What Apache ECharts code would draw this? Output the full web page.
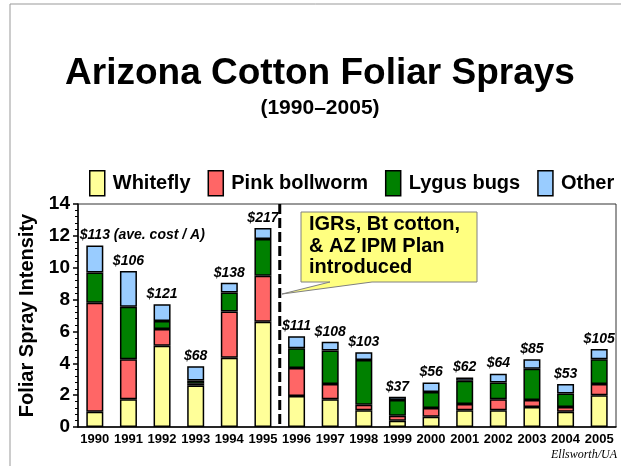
<!DOCTYPE html>
<html>
<head>
<meta charset="utf-8">
<script src="https://cdn.jsdelivr.net/npm/echarts@6/dist/echarts.min.js"></script>
<style>
  html, body { margin: 0; padding: 0; background: #fff; }
  #chart { width: 621px; height: 466px; }
</style>
</head>
<body>
<div id="chart"></div>
<script>
const years = ['1990', '1991', '1992', '1993', '1994', '1995', '1996', '1997',
  '1998', '1999', '2000', '2001', '2002', '2003', '2004', '2005'];
const whitefly = [0.95, 1.75, 5.1, 2.6, 4.35, 6.6, 1.95, 1.75, 1.05, 0.4, 0.65, 1.05, 1.05, 1.25, 0.95, 2.0];
const pinkBollworm = [6.85, 2.5, 1.05, 0.12, 2.9, 2.9, 1.75, 0.95, 0.35, 0.3, 0.55, 0.4, 0.7, 0.45, 0.3, 0.7];
const lygusBugs = [1.9, 3.3, 0.5, 0.2, 1.2, 2.3, 1.25, 2.1, 2.8, 1.0, 1.0, 1.45, 1.05, 1.95, 0.85, 1.55];
const other = [1.7, 2.25, 1.05, 0.9, 0.6, 0.7, 0.75, 0.55, 0.5, 0.2, 0.6, 0.2, 0.55, 0.6, 0.6, 0.65];
const costLabels = ['$113 (ave. cost / A)', '$106', '$121', '$68', '$138', '$217', '$111', '$108',
  '$103', '$37', '$56', '$62', '$64', '$85', '$53', '$105'];
const yTicks = [0, 2, 4, 6, 8, 10, 12, 14];

const FONT = '"Liberation Sans", Arial, sans-serif';
const colors = ['#FFFF99', '#FF6666', '#008000', '#99CCFF'];

const chart = echarts.init(document.getElementById('chart'));

const barBase = (name, data, color) => ({
  name: name,
  type: 'bar',
  stack: 'total',
  barWidth: 17,
  data: data,
  itemStyle: { color: color, borderColor: '#000', borderWidth: 1.5 },
  emphasis: { disabled: true },
});

const otherSeries = barBase('Other',
  other.map((v, i) => (i === 0 ? { value: v, label: { align: 'left', offset: [-15, 0] } } : v)),
  colors[3]);
otherSeries.label = {
  show: true,
  position: 'top',
  distance: 3,
  formatter: (p) => costLabels[p.dataIndex],
  color: '#000',
  fontFamily: FONT,
  fontSize: 14,
  fontWeight: 'bold',
  fontStyle: 'italic',
};

chart.setOption({
  animation: false,
  backgroundColor: '#fff',
  color: colors,
  legend: {
    left: 89,
    top: 170,
    padding: 0,
    icon: 'rect',
    itemWidth: 15,
    itemHeight: 25,
    itemGap: 17,
    itemStyle: { borderColor: '#000', borderWidth: 1.5 },
    textStyle: { fontFamily: FONT, fontSize: 20, fontWeight: 'bold', color: '#000', padding: [0, 0, 0, 3] },
    data: ['Whitefly', 'Pink bollworm', 'Lygus bugs', 'Other'],
  },
  grid: {
    left: 78,
    right: 5,
    top: 204,
    bottom: 39,
    show: true,
    borderColor: '#333',
    borderWidth: 1,
  },
  xAxis: {
    type: 'category',
    data: years,
    axisLine: { lineStyle: { color: '#000', width: 1.5 } },
    axisTick: { length: 4, lineStyle: { color: '#000', width: 1.5 } },
    axisLabel: { fontFamily: FONT, fontSize: 13, fontWeight: 'bold', color: '#000', margin: 6, interval: 0 },
  },
  yAxis: {
    type: 'value',
    min: yTicks[0],
    max: yTicks[yTicks.length - 1],
    interval: 2,
    name: 'Foliar Spray Intensity',
    nameLocation: 'middle',
    nameGap: 36,
    nameTextStyle: { fontFamily: FONT, fontSize: 20, fontWeight: 'bold', color: '#000' },
    axisLine: { show: true, lineStyle: { color: '#000', width: 1.5 } },
    axisTick: { show: true, length: 5, lineStyle: { color: '#000', width: 1.5 } },
    minorTick: { show: true, splitNumber: 5, length: 3, lineStyle: { color: '#000', width: 1 } },
    splitLine: { show: false },
    axisLabel: { fontFamily: FONT, fontSize: 19, fontWeight: 'bold', color: '#000', margin: 8 },
  },
  series: [
    barBase('Whitefly', whitefly, colors[0]),
    barBase('Pink bollworm', pinkBollworm, colors[1]),
    barBase('Lygus bugs', lygusBugs, colors[2]),
    otherSeries,
  ],
});

// divider between 1995 and 1996, from the axis scale
const x95 = chart.convertToPixel({ xAxisIndex: 0 }, '1995');
const x96 = chart.convertToPixel({ xAxisIndex: 0 }, '1996');
const divX = (x95 + x96) / 2;
const yTop = chart.convertToPixel({ yAxisIndex: 0 }, 14);
const yBot = chart.convertToPixel({ yAxisIndex: 0 }, 0);

chart.setOption({
  graphic: [
    {
      type: 'polyline',
      shape: { points: [[10, 466], [10, 4], [621, 4]] },
      style: { stroke: '#999', lineWidth: 1, fill: null },
      silent: true,
    },
    {
      type: 'text',
      x: 320, y: 74,
      style: {
        text: 'Arizona Cotton Foliar Sprays',
        font: 'bold 37px ' + FONT,
        fill: '#000',
        textAlign: 'center',
        textVerticalAlign: 'middle',
      },
    },
    {
      type: 'text',
      x: 320, y: 108,
      style: {
        text: '(1990\u20132005)',
        font: 'bold 21px ' + FONT,
        fill: '#000',
        textAlign: 'center',
        textVerticalAlign: 'middle',
      },
    },
    {
      type: 'line',
      shape: { x1: divX, y1: yTop, x2: divX, y2: yBot },
      style: { stroke: '#000', lineWidth: 3, lineDash: [10, 4] },
      z: 10,
    },
    {
      type: 'polygon',
      shape: {
        points: [[301, 212], [477, 212], [477, 282], [372, 282], [282, 294], [330, 282], [301, 282]],
      },
      style: { fill: '#FFFF80', stroke: '#808080', lineWidth: 1 },
      z: 11,
    },
    {
      type: 'text',
      x: 309, y: 214,
      style: {
        text: 'IGRs, Bt cotton,\n& AZ IPM Plan\nintroduced',
        font: 'bold 20px ' + FONT,
        lineHeight: 21.5,
        fill: '#000',
      },
      z: 12,
    },
    {
      type: 'text',
      x: 617, y: 455,
      style: {
        text: 'Ellsworth/UA',
        font: 'italic 12px "Liberation Serif", "Times New Roman", serif',
        fill: '#000',
        textAlign: 'right',
        textVerticalAlign: 'middle',
      },
    },
  ],
});
</script>
</body>
</html>
